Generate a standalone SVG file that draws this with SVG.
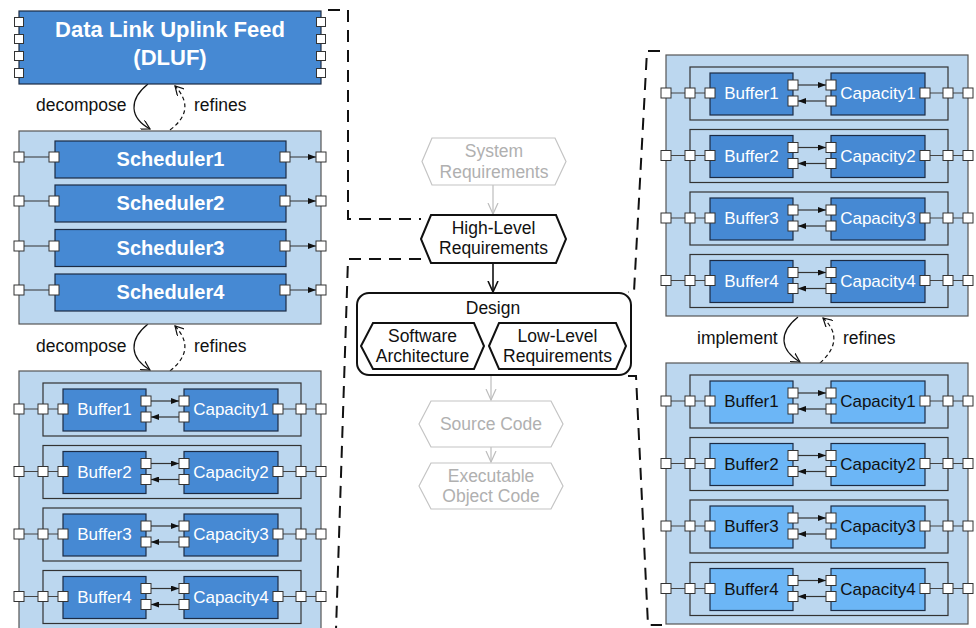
<svg xmlns="http://www.w3.org/2000/svg" xmlns:xlink="http://www.w3.org/1999/xlink" width="976" height="628" viewBox="0 0 976 628">
<style>
text{font-family:"Liberation Sans",Arial,sans-serif;}
.outer{fill:#bcd7ef;stroke:#555;stroke-width:1.2;}
.grp{fill:none;stroke:#333;stroke-width:1.2;}
.comp{fill:currentColor;stroke:#1c2b44;stroke-width:1.2;}
.main{fill:#4689d3;stroke:#1c2b44;stroke-width:1.2;}
.port{fill:#fff;stroke:#333;stroke-width:1;}
.wire{fill:none;stroke:#444;stroke-width:1.2;}
.arr{fill:none;stroke:#333;stroke-width:1.2;marker-end:url(#fill);}
.bt{font-weight:bold;fill:#fff;text-anchor:middle;}
.ct{font-size:17px;text-anchor:middle;}
.w{fill:#fff;}
.k{fill:#111;}
.lbl{font-size:17.5px;fill:#111;}
.hex{fill:#fff;stroke:#111;stroke-width:2;}
.ghex{fill:#fff;stroke:#c4c4c4;stroke-width:1.2;}
.mt{font-size:17.5px;fill:#111;text-anchor:middle;}
.gt{font-size:17.5px;fill:#b0b0b0;text-anchor:middle;}
.dash{fill:none;stroke:#111;stroke-width:2;stroke-dasharray:12 8;}
.curve{fill:none;stroke:#111;stroke-width:1.2;marker-end:url(#open);}
.curved{fill:none;stroke:#111;stroke-width:1.2;stroke-dasharray:4 3;marker-end:url(#open);}
</style>
<defs>
<marker id="fill" viewBox="0 0 8 6" refX="8" refY="3" markerWidth="8" markerHeight="6" markerUnits="userSpaceOnUse" orient="auto"><path d="M0,0 L8,3 L0,6 Z" fill="#111"/></marker>
<marker id="open" viewBox="0 0 10 10" refX="9" refY="5" markerWidth="10" markerHeight="10" markerUnits="userSpaceOnUse" orient="auto"><path d="M0,0 L9,5 L0,10" fill="none" stroke="#111" stroke-width="1.2" stroke-dasharray="none"/></marker>
<marker id="openk" viewBox="0 0 12 12" refX="11" refY="6" markerWidth="12" markerHeight="12" markerUnits="userSpaceOnUse" orient="auto"><path d="M0,1 L11,6 L0,11" fill="none" stroke="#111" stroke-width="1.6"/></marker>
<marker id="openg" viewBox="0 0 12 12" refX="11" refY="6" markerWidth="12" markerHeight="12" markerUnits="userSpaceOnUse" orient="auto"><path d="M0,1 L11,6 L0,11" fill="none" stroke="#bdbdbd" stroke-width="1.2"/></marker>
<g id="row">
  <rect class="grp" x="24" y="-26" width="258" height="53"/>
  <rect class="comp" x="44" y="-20" width="83" height="42"/>
  <rect class="comp" x="165" y="-20" width="94" height="42"/>
  <path class="wire" d="M5 0H19M29 0H39M264 0H277M287 0H297"/>
  <path class="arr" d="M132 -8H160"/>
  <path class="arr" d="M160 8H132"/>
  <rect class="port" x="-5" y="-5" width="10" height="10"/>
  <rect class="port" x="19" y="-5" width="10" height="10"/>
  <rect class="port" x="39" y="-5" width="10" height="10"/>
  <rect class="port" x="254" y="-5" width="10" height="10"/>
  <rect class="port" x="277" y="-5" width="10" height="10"/>
  <rect class="port" x="297" y="-5" width="10" height="10"/>
  <rect class="port" x="122" y="-13" width="10" height="10"/>
  <rect class="port" x="122" y="3" width="10" height="10"/>
  <rect class="port" x="160" y="-13" width="10" height="10"/>
  <rect class="port" x="160" y="3" width="10" height="10"/>
</g>
</defs>
<rect width="976" height="628" fill="#fff"/>

<g id="connectors">
  <path class="dash" d="M328 10H348V219H421"/>
  <path class="dash" d="M421 259H348L336 630"/>
  <path class="dash" d="M660 51H647L634 292H628"/>
  <path class="dash" d="M628 376H636L648 625H662"/>
  <path class="curve" d="M148 84C128 100 130 118 150 129"/>
  <path class="curved" d="M170 130C190 115 188 100 175 86"/>
  <path class="curve" d="M148 324C128 340 130 358 150 370"/>
  <path class="curved" d="M170 371C190 355 188 340 175 326"/>
  <path class="curve" d="M798 317C778 333 780 350 800 362"/>
  <path class="curved" d="M820 363C840 345 836 330 823 318"/>
  <path d="M493 185V214" fill="none" stroke="#bdbdbd" stroke-width="1.2" marker-end="url(#openg)"/>
  <path d="M493 263V292" fill="none" stroke="#111" stroke-width="1.6" marker-end="url(#openk)"/>
  <path d="M491 375V400" fill="none" stroke="#bdbdbd" stroke-width="1.2" marker-end="url(#openg)"/>
  <path d="M491 447V462" fill="none" stroke="#bdbdbd" stroke-width="1.2" marker-end="url(#openg)"/>
</g>

<g id="labels">
  <text class="lbl" x="36" y="111">decompose</text>
  <text class="lbl" x="194" y="111">refines</text>
  <text class="lbl" x="36" y="352">decompose</text>
  <text class="lbl" x="194" y="352">refines</text>
  <text class="lbl" x="697" y="344">implement</text>
  <text class="lbl" x="843" y="344">refines</text>
</g>

<g id="dluf">
  <rect class="main" x="19" y="11" width="302" height="73"/>
  <rect class="port" x="14.5" y="17.5" width="9" height="9"/>
  <rect class="port" x="14.5" y="34.5" width="9" height="9"/>
  <rect class="port" x="14.5" y="51.5" width="9" height="9"/>
  <rect class="port" x="14.5" y="68.5" width="9" height="9"/>
  <rect class="port" x="316.5" y="17.5" width="9" height="9"/>
  <rect class="port" x="316.5" y="34.5" width="9" height="9"/>
  <rect class="port" x="316.5" y="51.5" width="9" height="9"/>
  <rect class="port" x="316.5" y="68.5" width="9" height="9"/>
  <text class="bt" x="170" y="37" font-size="22">Data Link Uplink Feed</text>
  <text class="bt" x="170" y="65" font-size="22">(DLUF)</text>
</g>

<g id="schedulers">
  <rect class="outer" x="19" y="131" width="302" height="193"/>
  <g id="scheduler1">
    <path class="arr" d="M24 157H49M290 157H316"/>
    <rect class="main" x="55" y="141" width="231" height="37"/>
    <rect class="port" x="14" y="152" width="10" height="10"/><rect class="port" x="49" y="152" width="10" height="10"/>
    <rect class="port" x="280" y="152" width="10" height="10"/><rect class="port" x="316" y="152" width="10" height="10"/>
    <text class="bt" x="170.5" y="166" font-size="20">Scheduler1</text>
  </g>
  <g id="scheduler2">
    <path class="arr" d="M24 201H49M290 201H316"/>
    <rect class="main" x="55" y="185" width="231" height="37"/>
    <rect class="port" x="14" y="196" width="10" height="10"/><rect class="port" x="49" y="196" width="10" height="10"/>
    <rect class="port" x="280" y="196" width="10" height="10"/><rect class="port" x="316" y="196" width="10" height="10"/>
    <text class="bt" x="170.5" y="210" font-size="20">Scheduler2</text>
  </g>
  <g id="scheduler3">
    <path class="arr" d="M24 246H49M290 246H316"/>
    <rect class="main" x="55" y="229.5" width="231" height="37"/>
    <rect class="port" x="14" y="241" width="10" height="10"/><rect class="port" x="49" y="241" width="10" height="10"/>
    <rect class="port" x="280" y="241" width="10" height="10"/><rect class="port" x="316" y="241" width="10" height="10"/>
    <text class="bt" x="170.5" y="254.5" font-size="20">Scheduler3</text>
  </g>
  <g id="scheduler4">
    <path class="arr" d="M24 290H49M290 290H316"/>
    <rect class="main" x="55" y="274" width="231" height="37"/>
    <rect class="port" x="14" y="285" width="10" height="10"/><rect class="port" x="49" y="285" width="10" height="10"/>
    <rect class="port" x="280" y="285" width="10" height="10"/><rect class="port" x="316" y="285" width="10" height="10"/>
    <text class="bt" x="170.5" y="299" font-size="20">Scheduler4</text>
  </g>
</g>

<g id="left-buffers">
  <rect class="outer" x="19" y="371" width="302" height="270"/>
  <g id="lb1" style="color:#4689d3"><use xlink:href="#row" href="#row" x="19" y="409"/><text class="ct w" x="104.5" y="415">Buffer1</text><text class="ct w" x="231" y="415">Capacity1</text></g>
  <g id="lb2" style="color:#4689d3"><use xlink:href="#row" href="#row" x="19" y="471.5"/><text class="ct w" x="104.5" y="477.5">Buffer2</text><text class="ct w" x="231" y="477.5">Capacity2</text></g>
  <g id="lb3" style="color:#4689d3"><use xlink:href="#row" href="#row" x="19" y="534"/><text class="ct w" x="104.5" y="540">Buffer3</text><text class="ct w" x="231" y="540">Capacity3</text></g>
  <g id="lb4" style="color:#4689d3"><use xlink:href="#row" href="#row" x="19" y="596.5"/><text class="ct w" x="104.5" y="602.5">Buffer4</text><text class="ct w" x="231" y="602.5">Capacity4</text></g>
</g>

<g id="right-design-buffers">
  <rect class="outer" x="666" y="55" width="302" height="261"/>
  <g id="rb1" style="color:#4689d3"><use xlink:href="#row" href="#row" x="666" y="93"/><text class="ct w" x="751.5" y="99">Buffer1</text><text class="ct w" x="878" y="99">Capacity1</text></g>
  <g id="rb2" style="color:#4689d3"><use xlink:href="#row" href="#row" x="666" y="155.5"/><text class="ct w" x="751.5" y="161.5">Buffer2</text><text class="ct w" x="878" y="161.5">Capacity2</text></g>
  <g id="rb3" style="color:#4689d3"><use xlink:href="#row" href="#row" x="666" y="218"/><text class="ct w" x="751.5" y="224">Buffer3</text><text class="ct w" x="878" y="224">Capacity3</text></g>
  <g id="rb4" style="color:#4689d3"><use xlink:href="#row" href="#row" x="666" y="280.5"/><text class="ct w" x="751.5" y="286.5">Buffer4</text><text class="ct w" x="878" y="286.5">Capacity4</text></g>
</g>

<g id="right-code-buffers">
  <rect class="outer" x="666" y="363" width="302" height="261"/>
  <g id="cb1" style="color:#6cb6f6"><use xlink:href="#row" href="#row" x="666" y="401"/><text class="ct k" x="751.5" y="407">Buffer1</text><text class="ct k" x="878" y="407">Capacity1</text></g>
  <g id="cb2" style="color:#6cb6f6"><use xlink:href="#row" href="#row" x="666" y="463.5"/><text class="ct k" x="751.5" y="469.5">Buffer2</text><text class="ct k" x="878" y="469.5">Capacity2</text></g>
  <g id="cb3" style="color:#6cb6f6"><use xlink:href="#row" href="#row" x="666" y="526"/><text class="ct k" x="751.5" y="532">Buffer3</text><text class="ct k" x="878" y="532">Capacity3</text></g>
  <g id="cb4" style="color:#6cb6f6"><use xlink:href="#row" href="#row" x="666" y="588.5"/><text class="ct k" x="751.5" y="594.5">Buffer4</text><text class="ct k" x="878" y="594.5">Capacity4</text></g>
</g>

<g id="system-req">
  <polygon class="ghex" points="422,161.5 432,138 555,138 566,161.5 555,185 432,185"/>
  <text class="gt" x="494" y="157">System</text>
  <text class="gt" x="494" y="178">Requirements</text>
</g>
<g id="high-level">
  <polygon class="hex" points="421,239 431,215 556,215 566,239 556,263 431,263"/>
  <text class="mt" x="493.5" y="234">High-Level</text>
  <text class="mt" x="493.5" y="254">Requirements</text>
</g>
<g id="design">
  <rect x="357" y="293" width="274" height="82" rx="12" fill="#fff" stroke="#111" stroke-width="2"/>
  <text class="mt" x="493" y="314">Design</text>
</g>
<g id="sw-arch">
  <polygon class="hex" points="361,346 373,323 474,323 484,346 474,369 373,369"/>
  <text class="mt" x="422.5" y="342">Software</text>
  <text class="mt" x="422.5" y="362">Architecture</text>
</g>
<g id="low-level">
  <polygon class="hex" points="489,346 499,323 616,323 626,346 616,369 499,369"/>
  <text class="mt" x="557.5" y="342">Low-Level</text>
  <text class="mt" x="557.5" y="362">Requirements</text>
</g>
<g id="source-code">
  <polygon class="ghex" points="419,424 431,401 551,401 563,424 551,447 431,447"/>
  <text class="gt" x="491" y="430">Source Code</text>
</g>
<g id="object-code">
  <polygon class="ghex" points="419,486 431,463 551,463 563,486 551,509 431,509"/>
  <text class="gt" x="491" y="482">Executable</text>
  <text class="gt" x="491" y="502">Object Code</text>
</g>
</svg>
